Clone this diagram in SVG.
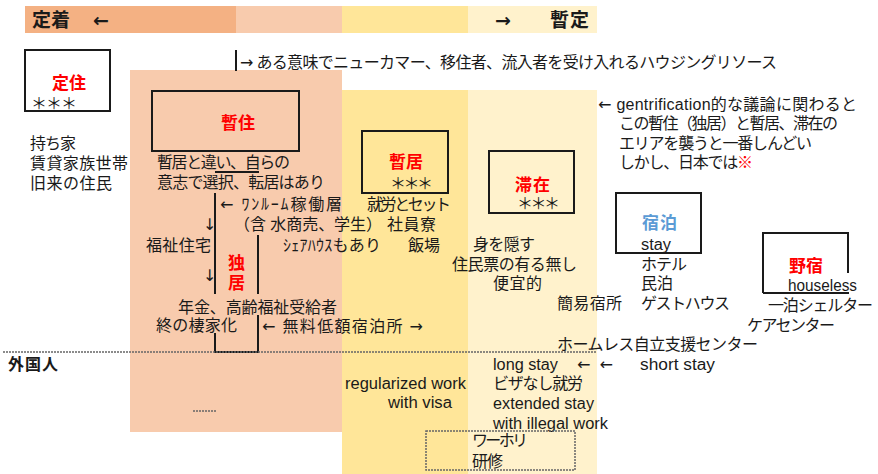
<svg xmlns="http://www.w3.org/2000/svg" width="878" height="474" viewBox="0 0 878 474">
<style>
text{font-family:"Liberation Sans","Noto Sans CJK JP",sans-serif;font-size:16px;fill:#1a1a1a}
.ar{font-family:"DejaVu Sans",sans-serif}
.b{font-weight:bold}
.top{font-size:19px;font-weight:bold}
.red{fill:#ff0000;font-size:17px;font-weight:bold}
.blue{fill:#5b9bd5;font-size:17px;font-weight:bold}
.box{fill:none;stroke:#1a1a1a;stroke-width:2}
.ln{fill:none;stroke:#1a1a1a;stroke-width:2}
.dash{fill:none;stroke:#666;stroke-width:1.5;stroke-dasharray:2 1}
</style>
<rect width="878" height="474" fill="#fff"/>
<g id="bands">
<rect x="25" y="6" width="211" height="27" fill="#f4b183"/>
<rect x="236" y="6" width="106" height="27" fill="#f8cbad"/>
<rect x="342" y="6" width="126" height="27" fill="#ffe699"/>
<rect x="468" y="6" width="129" height="27" fill="#fff2cc"/>
<rect x="130" y="70" width="212" height="362" fill="#f8cbad"/>
<rect x="342" y="90" width="126" height="384" fill="#ffe699"/>
<rect x="468" y="90" width="129" height="384" fill="#fff2cc"/>
<text class="top" x="32" y="27" textLength="38">定着</text>
<text class="top ar" x="93" y="27">←</text>
<text class="top ar" x="495" y="27">→</text>
<text class="top" x="550" y="27" textLength="39">暫定</text>
</g>
<g id="connectors">
<line class="ln" x1="236" y1="50" x2="236" y2="71"/>
<line class="ln" x1="215" y1="172" x2="259" y2="172"/>
<line class="ln" x1="215" y1="193" x2="215" y2="294"/>
<line class="ln" x1="215" y1="333" x2="215" y2="353"/>
<line class="ln" x1="258" y1="235" x2="258" y2="294"/>
<line class="ln" x1="258" y1="315" x2="258" y2="353"/>
<line class="ln" x1="214" y1="352" x2="259" y2="352"/>
<line class="dash" x1="3" y1="352" x2="597" y2="352"/>
<line class="dash" x1="193" y1="411" x2="217" y2="411"/>
</g>
<g id="teiju">
<rect class="box" x="25" y="50" width="85" height="61"/>
<text class="red" x="52" y="89" textLength="34">定住</text>
<text x="31" y="109" textLength="46">＊＊＊</text>
<text x="30" y="149" textLength="46">持ち家</text>
<text x="30" y="169" textLength="98">賃貸家族世帯</text>
<text x="30" y="189" textLength="82">旧来の住民</text>
</g>
<g id="housing-note">
<text x="240" y="68" textLength="537"><tspan class="ar">→</tspan> ある意味でニューカマー、移住者、流入者を受け入れるハウジングリソース</text>
</g>
<g id="zanju">
<rect class="box" x="152" y="91" width="147" height="60"/>
<text class="red" x="221" y="129" textLength="34">暫住</text>
<text x="157" y="168" textLength="133">暫居と違い、自らの</text>
<text x="157" y="188" textLength="168">意志で選択、転居はあり</text>
<text x="220" y="210" textLength="122"><tspan class="ar">←</tspan> ﾜﾝﾙｰﾑ稼働層</text>
<text class="ar" x="203" y="230">↓</text>
<text x="234" y="230" textLength="148">（含 水商売、学生）</text>
<text x="146" y="251" textLength="65">福祉住宅</text>
<text x="283" y="251" textLength="98">ｼｪｱﾊｳｽもあり</text>
<text class="ar" x="203" y="281">↓</text>
</g>
<g id="dokkyo">
<text class="red" x="228" y="269">独</text>
<text class="red" x="228" y="289">居</text>
<text x="178" y="313" textLength="159">年金、高齢福祉受給者</text>
<text x="156" y="331" textLength="81">終の棲家化</text>
<text x="262" y="332" textLength="161"><tspan class="ar">←</tspan> 無料低額宿泊所 <tspan class="ar">→</tspan></text>
</g>
<g id="zankyo">
<rect class="box" x="362" y="131" width="86" height="62"/>
<text class="red" x="389" y="168" textLength="34">暫居</text>
<text x="390" y="189" textLength="43">＊＊＊</text>
<text x="367" y="210" textLength="84">就労とセット</text>
<text x="387" y="230" textLength="49">社員寮</text>
<text x="408" y="251" textLength="32">飯場</text>
</g>
<g id="taizai">
<rect class="box" x="489" y="151" width="85" height="62"/>
<text class="red" x="515" y="191" textLength="35">滞在</text>
<text x="517" y="209" textLength="43">＊＊＊</text>
<text x="473" y="250" textLength="62">身を隠す</text>
<text x="452" y="270" textLength="125">住民票の有る無し</text>
<text x="493" y="289" textLength="49">便宜的</text>
</g>
<g id="gentrification-note">
<text x="598" y="110" textLength="259"><tspan class="ar">←</tspan> gentrification的な議論に関わると</text>
<text x="619" y="129" textLength="219">この暫住（独居）と暫居、滞在の</text>
<text x="619" y="149" textLength="193">エリアを襲うと一番しんどい</text>
<text x="619" y="168" textLength="134">しかし、日本では<tspan fill="#ff0000">※</tspan></text>
</g>
<g id="shukuhaku">
<rect class="box" x="616" y="193" width="85" height="60"/>
<text class="blue" x="642" y="229" textLength="35">宿泊</text>
<text x="641" y="250" textLength="30" lengthAdjust="spacingAndGlyphs">stay</text>
<text x="641" y="270" textLength="46">ホテル</text>
<text x="641" y="289" textLength="32">民泊</text>
<text x="641" y="309" textLength="89">ゲストハウス</text>
<text x="557" y="309" textLength="65">簡易宿所</text>
</g>
<g id="nojuku">
<path class="box" d="M763,293 V233 H848 V273"/>
<line class="ln" x1="763" y1="293" x2="849" y2="293"/>
<text class="red" x="789" y="272" textLength="34">野宿</text>
<text x="788" y="291" textLength="69" lengthAdjust="spacingAndGlyphs">houseless</text>
<text x="768" y="311" textLength="105">一泊シェルター</text>
<text x="747" y="331" textLength="88">ケアセンター</text>
<text x="557" y="350" textLength="201">ホームレス自立支援センター</text>
</g>
<g id="foreigners">
<text class="b" x="8" y="370" textLength="50">外国人</text>
<text x="493" y="370" textLength="65" lengthAdjust="spacingAndGlyphs">long stay</text>
<text class="ar" x="577" y="370" textLength="36">←←</text>
<text x="640" y="370" textLength="75" lengthAdjust="spacingAndGlyphs">short stay</text>
<text x="345" y="389" textLength="121" lengthAdjust="spacingAndGlyphs">regularized work</text>
<text x="388" y="408" textLength="64" lengthAdjust="spacingAndGlyphs">with visa</text>
<text x="493" y="389" textLength="90">ビザなし就労</text>
<text x="493" y="409" textLength="101" lengthAdjust="spacingAndGlyphs">extended stay</text>
<text x="493" y="429" textLength="115" lengthAdjust="spacingAndGlyphs">with illegal work</text>
</g>
<g id="working-holiday">
<rect class="dash" x="426" y="431" width="149" height="39"/>
<text x="472" y="446" textLength="56">ワーホリ</text>
<text x="472" y="467" textLength="31">研修</text>
</g>
</svg>
